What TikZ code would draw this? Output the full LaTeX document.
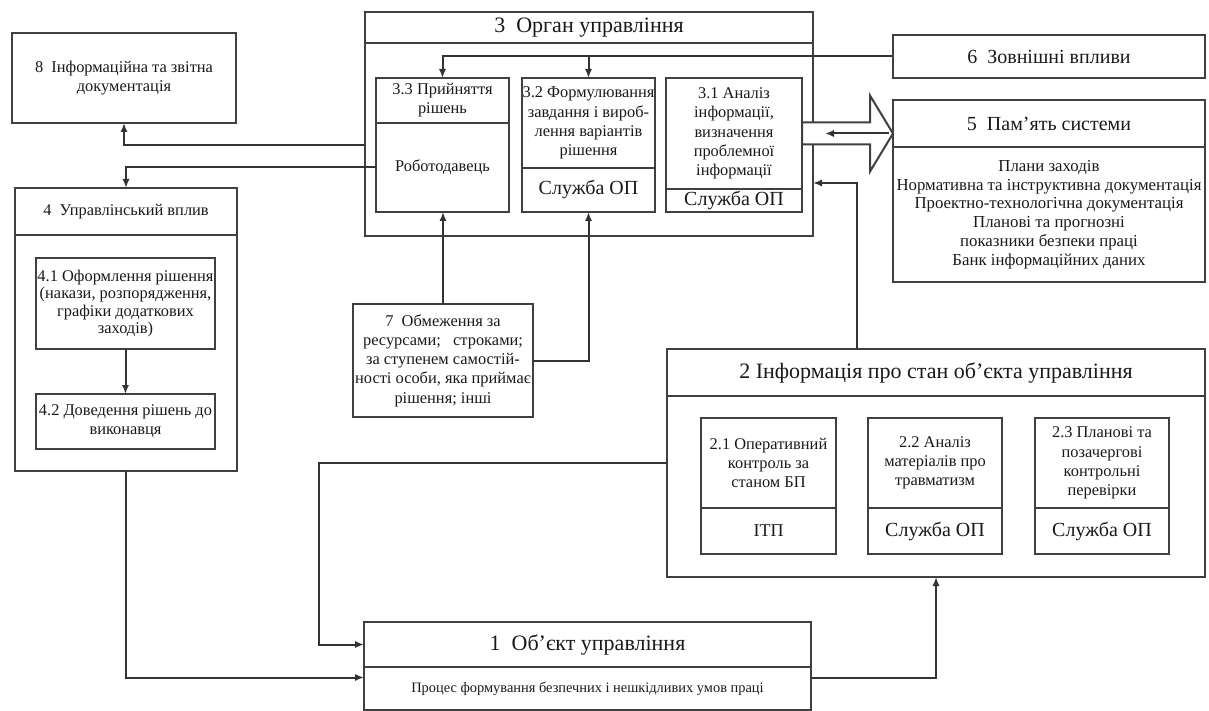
\documentclass[tikz,border=0pt]{standalone}
\usepackage{fontspec}
\setmainfont{Liberation Serif}
\usepackage{tikz}
\usetikzlibrary{positioning, calc, arrows.meta}
\newcommand{\fsz}[2]{\fontsize{#1}{#2}\selectfont}
\tikzset{
	cell/.style={draw=black!75, line width=1pt, rectangle, anchor=north west, inner sep=0pt, outer sep=0pt, align=center, text=black!90},
	txtS/.style={font=\fsz{8.2}{9.6}},
	txtM/.style={font=\fsz{10}{11}},
	txtL/.style={font=\fsz{11}{12}},
	arr/.style={draw=black!80, line width=1pt, -{Latex[length=4.5pt,width=3.6pt]}}
}
\begin{document}
\begin{tikzpicture}[x=0.5pt, y=-0.5pt]
		\useasboundingbox (0,0) rectangle (1209,711);
		\node[cell, minimum width=224pt, minimum height=112pt] (b3) at (365,12) {};
		\node[cell, txtL, minimum width=224pt, minimum height=15.5pt] (b3t) at (365,12) {3\enspace Орган управління};
		\node[cell, txtS, minimum width=66.5pt, minimum height=22.5pt] (b33t) at (376,78) {3.3 Прийняття\\рішень};
		\node[cell, txtS, minimum width=66.5pt, minimum height=44.5pt] (b33b) at (376,123) {Роботодавець};
		\node[cell, txtS, minimum width=66.5pt, minimum height=45pt] (b32t) at (522,78) {3.2 Формулювання\\завдання і вироб-\\лення варіантів\\рішення};
		\node[cell, txtM, minimum width=66.5pt, minimum height=22pt] (b32b) at (522,168) {Служба ОП};
		\node[cell, txtS, minimum width=68pt, minimum height=55.5pt] (b31t) at (666,78) {3.1 Аналіз\\інформації,\\визначення\\проблемної\\інформації};
		\node[cell, txtM, minimum width=68pt, minimum height=11.5pt] (b31b) at (666,189) {Служба ОП};
		
		\node[cell, txtM, minimum width=156pt, minimum height=21.5pt] (b6) at (893,35) {6\enspace Зовнішні впливи};
		\node[cell, txtM, minimum width=156pt, minimum height=23.5pt] (b5t) at (893,100) {5\enspace Пам'ять системи};
		\node[cell, font=\fsz{8.4}{9.4}, minimum width=156pt, minimum height=67.5pt] (b5b) at (893,147) {Плани заходів\\Нормативна та інструктивна документація\\Проектно-технологічна документація\\Планові та прогнозні\\показники безпеки праці\\Банк інформаційних даних};
		
		\node[cell, txtS, minimum width=112pt, minimum height=45pt] (b8) at (12,33) {8\enspace Інформаційна та звітна\\документація};
		\node[cell, minimum width=111pt, minimum height=141.5pt] (b4) at (15,188) {};
		\node[cell, txtS, minimum width=111pt, minimum height=23.5pt] (b4t) at (15,188) {4\enspace Управлінський вплив};
		\node[cell, font=\fsz{8.2}{8.6}, minimum width=89.5pt, minimum height=45.5pt] (b41) at (36,258) {4.1 Оформлення рішення\\(накази, розпорядження,\\графіки додаткових\\заходів)};
		\node[cell, txtS, minimum width=89.5pt, minimum height=27.5pt] (b42) at (36,394) {4.2 Доведення рішень до\\виконавця};
		
		\node[cell, txtS, minimum width=90pt, minimum height=56.5pt] (b7) at (353,304) {7\enspace Обмеження за\\ресурсами;\enspace\ строками;\\за ступенем самостій-\\ності особи, яка приймає\\рішення; інші};
		
		\node[cell, minimum width=269pt, minimum height=114pt] (b2) at (667,349) {};
		\node[cell, txtL, minimum width=269pt, minimum height=23.5pt] (b2t) at (667,349) {2 Інформація про стан об'єкта управління};
		\node[cell, txtS, minimum width=67.5pt, minimum height=45pt] (b21t) at (701,418) {2.1 Оперативний\\контроль за\\станом БП};
		\node[cell, font=\fsz{9}{10}, minimum width=67.5pt, minimum height=23pt] (b21b) at (701,508) {ІТП};
		\node[cell, txtS, minimum width=67pt, minimum height=45pt] (b22t) at (868,418) {2.2 Аналіз\\матеріалів про\\травматизм};
		\node[cell, txtM, minimum width=67pt, minimum height=23pt] (b22b) at (868,508) {Служба ОП};
		\node[cell, txtS, minimum width=67pt, minimum height=45pt] (b23t) at (1035,418) {2.3 Планові та\\позачергові\\контрольні\\перевірки};
		\node[cell, txtM, minimum width=67pt, minimum height=23pt] (b23b) at (1035,508) {Служба ОП};
		
		\node[cell, txtL, minimum width=223.5pt, minimum height=22.5pt] (b1t) at (364,622) {1\enspace Об'єкт управління};
		\node[cell, font=\fsz{7.2}{8}, minimum width=223.5pt, minimum height=21.5pt] (b1b) at (364,667) {Процес формування безпечних і нешкідливих умов праці};
		
		\coordinate (o8) at (365,145);
		\draw[arr] (b6.west) -| (b33t.north);
		\draw[arr] (b6.west -| b32t.north) -- (b32t.north);
		\draw[arr] (o8) -| (b8.south);
		\draw[arr] (b33b.west) -| (b4t.north);
		\draw[arr] (b41.south) -- (b42.north);
		\draw[arr] (b4.south) |- ([yshift=5.5pt]b1b.west);
		\draw[arr] (b2.west) -- ++(-348,0) |- (b1t.west);
		\draw[arr] ([yshift=5.5pt]b1b.east) -| (b2.south);
		\draw[arr] ([xshift=-39.5pt]b2.north) |- ([yshift=-29.5pt]b3.east);
		\draw[arr] (b7.north) -- (b7.north |- b33b.south);
		\draw[arr] (b7.east) -| (b32b.south);
		
		\draw[draw=black!75, line width=1pt, fill=white] ([yshift=5.5pt]b31t.east) -- ++(68,0) -- ++(0,-27) -- (b5t.west |- b31t.east) -- ++(-23,38) -- ++(0,-27) -- ([yshift=-5.5pt]b31t.east) -- cycle;
		\draw[arr] ([xshift=-2pt]b5t.west |- b31t.east) -- ++(-64,0);
\end{tikzpicture}
\end{document}
